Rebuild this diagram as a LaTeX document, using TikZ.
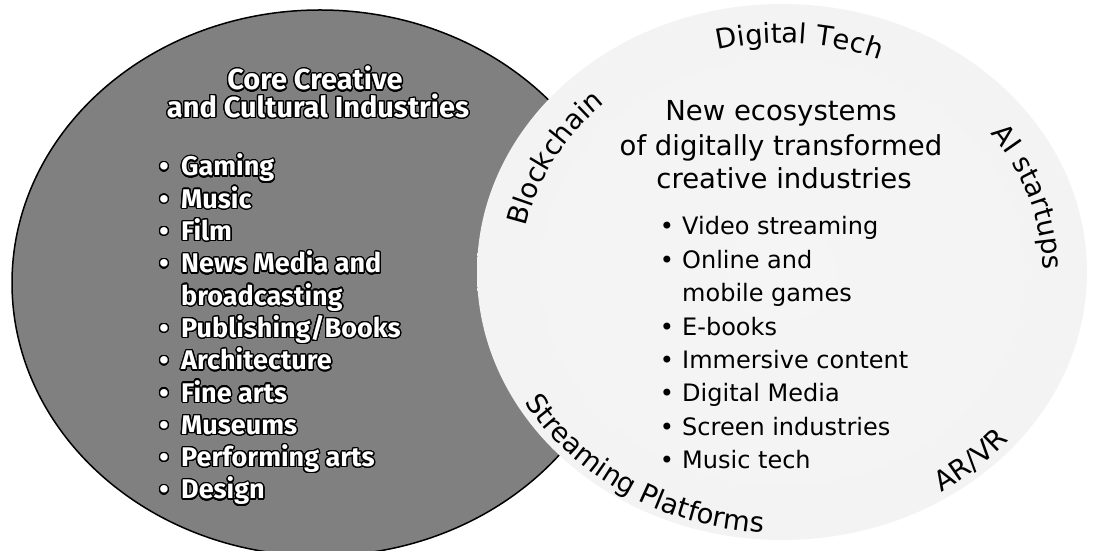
\documentclass[tikz,border=0pt]{standalone}
\usepackage{fontspec}
\setmainfont{DejaVu Sans}
\newfontfamily\leftfont{Fira Sans}
\usepackage[copies]{contour}
\contournumber{24}
\contourlength{1.3pt}
\usetikzlibrary{decorations.text}
\definecolor{leftgray}{gray}{0.5}
\pgfdeclareradialshading{ringshade}{\pgfpointorigin}{color(0bp)=(black!4); color(39bp)=(black!5); color(44bp)=(black!16); color(50bp)=(black!24); color(52bp)=(black!24)}
\newcommand\arcfont{\fontsize{27.5}{30}\selectfont}
\begin{document}
\begin{tikzpicture}[x=1pt,y=1pt,
  lefttitle/.style={anchor=base, inner sep=0, text=white, font=\leftfont\bfseries\fontsize{29}{31}\selectfont},
  leftitem/.style={anchor=base west, inner sep=0, text=white, font=\leftfont\bfseries\fontsize{27}{30}\selectfont},
  leftbullet/.style={anchor=base, inner sep=0, text=white, font=\leftfont\bfseries\fontsize{27}{30}\selectfont},
  righttitle/.style={anchor=base, inner sep=0, font=\fontsize{27.5}{30}\selectfont},
  rightitem/.style={anchor=base west, inner sep=0, font=\fontsize{24}{28}\selectfont},
  rightbullet/.style={anchor=base, inner sep=0, font=\fontsize{24}{28}\selectfont},
  arclabel/.style={decorate, decoration={text along path, text align=center, text={|\arcfont|#1}}}
]
\useasboundingbox (0,0) rectangle (1095,551);
\clip (0,0) rectangle (1095,551);
\fill[white] (0,0) rectangle (1095,551);

% left circle
\path[draw=black, line width=1.5, fill=leftgray] (320,268) ellipse [x radius=308, y radius=273];
% right circle with grey ring
\shade[shading=ringshade] (782,279) ellipse [x radius=305, y radius=268];

% curved labels on the ring (tops outward)
\path[arclabel=Digital Tech] (782,279) ++(126:261 and 229) arc[start angle=126, end angle=46, x radius=261, y radius=229];
\path[arclabel=Blockchain] (782,279) ++(191.7:261 and 229) arc[start angle=191.7, end angle=111.7, x radius=261, y radius=229];
\path[arclabel=AI startups] (782,279) ++(58:261 and 229) arc[start angle=58, end angle=-22, x radius=261, y radius=229];
% curved labels (tops inward)
\path[arclabel=AR/VR] (782,279) ++(-78:297 and 261) arc[start angle=-78, end angle=-18, x radius=297, y radius=261];
\path[arclabel=Streaming Platforms] (782,279) ++(187:297 and 261) arc[start angle=187, end angle=287, x radius=297, y radius=261];

% left title
\node[lefttitle] (lt1) at (315,461) {\contour{black}{Core Creative}};
\node[lefttitle] (lt2) at (318,433.5) {\contour{black}{and Cultural Industries}};

% left list
\foreach \txt/\hasb [count=\i from 0] in {Gaming/1, Music/1, Film/1, News Media and/1, broadcasting/0, {Publishing/Books}/1, Architecture/1, Fine arts/1, Museums/1, Performing arts/1, Design/1}{
  \pgfmathsetmacro{\yy}{375-32.3*\i}
  \node[leftitem] (li\i) at (181,\yy) {\contour{black}{\txt}};
  \ifnum\hasb=1
    \node[leftbullet] (lb\i) at (164,\yy) {\contour{black}{•}};
  \fi
}

% right title
\node[righttitle] (rt1) at (781,430) {New ecosystems};
\node[righttitle] (rt2) at (781,395) {of digitally transformed};
\node[righttitle] (rt3) at (784,362) {creative industries};

% right list
\foreach \txt/\hasb [count=\i from 0] in {Video streaming/1, Online and/1, mobile games/0, E-books/1, Immersive content/1, Digital Media/1, Screen industries/1, Music tech/1}{
  \pgfmathsetmacro{\yy}{316-33.4*\i}
  \node[rightitem] (ri\i) at (682,\yy) {\txt};
  \ifnum\hasb=1
    \node[rightbullet] (rb\i) at (667,\yy) {•};
  \fi
}
\end{tikzpicture}
\end{document}
